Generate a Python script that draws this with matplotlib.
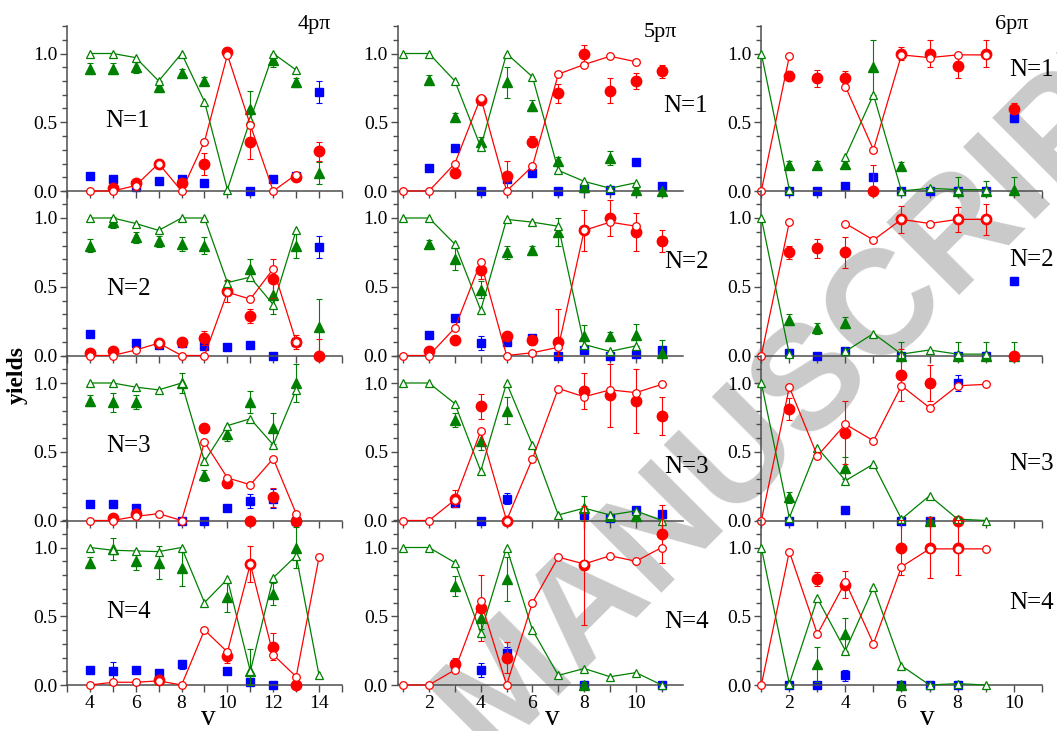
import numpy as np
import matplotlib
from matplotlib import pyplot as plt
from matplotlib.ticker import MultipleLocator

matplotlib.use("Agg")

plt.rcParams["font.family"] = ["Liberation Serif", "DejaVu Serif"]

n = None

# vibrational levels per column
V_4P = [4, 5, 6, 7, 8, 9, 10, 11, 12, 13, 14]
V_5P = [1, 2, 3, 4, 5, 6, 7, 8, 9, 10, 11]
V_6P = [1, 2, 3, 4, 5, 6, 7, 8, 9, 10]

# gt/rt: theory (open), ge/re/be: experiment (filled), gs/rs/bs: error bars
# ---- 4p pi ----
p4n1_gt = [1.0, 1.0, 0.97, 0.80, 1.0, 0.65, 0.01, 0.52, 1.0, 0.88, n]
p4n1_rt = [0.0, 0.0, 0.04, 0.20, 0.0, 0.36, 0.99, 0.48, 0.0, 0.12, n]
p4n1_ge = [0.89, 0.89, 0.90, 0.76, 0.86, 0.80, n, 0.60, 0.95, 0.79, 0.13]
p4n1_gs = [0.04, 0.04, 0.04, 0.04, 0.03, 0.03, 0, 0.13, 0.05, 0.03, 0.08]
p4n1_re = [n, 0.02, 0.06, 0.20, 0.06, 0.20, 1.01, 0.36, n, 0.10, 0.29]
p4n1_rs = [0, 0.02, 0.02, 0.02, 0.02, 0.08, 0.03, 0.13, 0, 0.02, 0.07]
p4n1_be = [0.11, 0.09, 0.03, 0.07, 0.09, 0.06, n, 0.0, 0.09, 0.11, 0.72]
p4n1_bs = [0.02, 0.02, 0.01, 0.02, 0.02, 0.02, 0, 0, 0.02, 0.02, 0.08]

p4n2_gt = [1.0, 1.0, 0.96, 0.91, 1.0, 1.0, 0.53, 0.57, 0.37, 0.91, n]
p4n2_rt = [0.0, 0.0, 0.04, 0.09, 0.0, 0.0, 0.46, 0.41, 0.63, 0.10, n]
p4n2_ge = [0.80, 0.97, 0.86, 0.83, 0.81, 0.80, 0.49, 0.63, 0.44, 0.80, 0.21]
p4n2_gs = [0.05, 0.04, 0.04, 0.04, 0.05, 0.06, 0.05, 0.07, 0.14, 0.09, 0.20]
p4n2_re = [0.02, 0.03, n, 0.09, 0.10, 0.13, 0.47, 0.29, 0.56, 0.10, 0.0]
p4n2_rs = [0.01, 0.01, 0, 0.01, 0.02, 0.05, 0.08, 0.05, 0.14, 0.05, 0.12]
p4n2_be = [0.16, n, 0.09, 0.08, 0.09, 0.07, 0.06, 0.08, 0.0, 0.10, 0.79]
p4n2_bs = [0.02, 0, 0.02, 0.02, 0.02, 0.02, 0.02, 0.02, 0, 0.02, 0.08]

p4n3_gt = [1.0, 1.0, 0.97, 0.95, 1.0, 0.43, 0.69, 0.74, 0.55, 0.95, n]
p4n3_rt = [0.0, 0.0, 0.03, 0.05, 0.0, 0.57, 0.31, 0.26, 0.45, 0.05, n]
p4n3_ge = [0.87, 0.86, 0.86, n, 1.0, 0.33, 0.63, 0.86, 0.67, 1.0, n]
p4n3_gs = [0.04, 0.07, 0.05, 0, 0.07, 0.04, 0.05, 0.08, 0.11, 0.14, 0]
p4n3_re = [n, 0.02, 0.05, n, n, 0.67, 0.27, 0.0, 0.17, 0.0, n]
p4n3_rs = [0, 0.01, 0.02, 0, 0, 0.03, 0.03, 0, 0.07, 0, 0]
p4n3_be = [0.12, 0.12, 0.09, n, 0.0, 0.0, 0.09, 0.14, 0.16, 0.0, n]
p4n3_bs = [0.02, 0.02, 0.02, 0, 0, 0, 0.02, 0.05, 0.07, 0, 0]

p4n4_gt = [1.0, 0.98, 0.975, 0.97, 1.0, 0.60, 0.77, 0.10, 0.78, 0.94, 0.07]
p4n4_rt = [0.0, 0.02, 0.02, 0.03, 0.0, 0.40, 0.24, 0.88, 0.22, 0.06, 0.93]
p4n4_ge = [0.89, 0.99, 0.90, 0.89, 0.85, n, 0.64, 0.10, 0.66, 1.0, n]
p4n4_gs = [0.04, 0.08, 0.06, 0.12, 0.13, 0, 0.11, 0.16, 0.08, 0.15, 0]
p4n4_re = [n, n, n, 0.04, n, n, 0.21, 0.88, 0.28, 0.0, n]
p4n4_rs = [0, 0, 0, 0.02, 0, 0, 0.05, 0.13, 0.10, 0, 0]
p4n4_be = [0.11, 0.10, 0.11, 0.09, 0.15, n, 0.10, 0.02, 0.0, n, n]
p4n4_bs = [0.02, 0.07, 0.02, 0.02, 0.03, 0, 0.02, 0.02, 0, 0, 0]

# ---- 5p pi ----
p5n1_gt = [1.0, 1.0, 0.80, 0.32, 1.0, 0.83, 0.15, 0.07, 0.02, 0.06, n]
p5n1_rt = [0.0, 0.0, 0.20, 0.68, 0.0, 0.18, 0.85, 0.92, 0.98, 0.94, n]
p5n1_ge = [n, 0.81, 0.54, 0.36, 0.79, 0.62, 0.22, 0.03, 0.24, 0.01, 0.0]
p5n1_gs = [0, 0.03, 0.03, 0.03, 0.11, 0.04, 0.03, 0.02, 0.05, 0.01, 0.01]
p5n1_re = [n, n, 0.13, 0.66, 0.11, 0.36, 0.71, 1.0, 0.73, 0.80, 0.87]
p5n1_rs = [0, 0, 0.02, 0.03, 0.11, 0.04, 0.07, 0.06, 0.09, 0.06, 0.05]
p5n1_be = [n, 0.17, 0.31, 0.0, 0.09, 0.13, 0.0, 0.02, 0.01, 0.21, 0.04]
p5n1_bs = [0, 0.02, 0.02, 0, 0.02, 0.02, 0, 0.01, 0.01, 0.02, 0.02]

p5n2_gt = [1.0, 1.0, 0.81, 0.33, 0.99, 0.97, 0.94, 0.08, 0.03, 0.07, n]
p5n2_rt = [0.0, 0.0, 0.20, 0.68, 0.0, 0.02, 0.06, 0.91, 0.97, 0.94, n]
p5n2_ge = [n, 0.81, 0.70, 0.48, 0.75, 0.77, 0.90, 0.14, 0.14, 0.15, 0.02]
p5n2_gs = [0, 0.03, 0.08, 0.06, 0.05, 0.03, 0.10, 0.08, 0.03, 0.08, 0.09]
p5n2_re = [n, 0.03, 0.11, 0.62, 0.14, 0.11, 0.10, 0.91, 1.0, 0.90, 0.83]
p5n2_rs = [0, 0.02, 0.02, 0.06, 0.03, 0.03, 0.24, 0.15, 0.13, 0.14, 0.08]
p5n2_be = [n, 0.15, 0.27, 0.09, 0.10, 0.13, 0.0, 0.04, 0.0, 0.01, 0.04]
p5n2_bs = [0, 0.02, 0.02, 0.05, 0.02, 0.02, 0, 0.02, 0, 0.01, 0.02]

p5n3_gt = [1.0, 1.0, 0.85, 0.36, 1.0, 0.55, 0.04, 0.09, 0.04, 0.07, 0.0]
p5n3_rt = [0.0, 0.0, 0.15, 0.65, 0.0, 0.45, 0.96, 0.90, 0.95, 0.93, 0.99]
p5n3_ge = [n, n, 0.73, 0.58, 0.80, n, n, 0.09, 0.03, 0.03, n]
p5n3_gs = [0, 0, 0.05, 0.07, 0.10, 0, 0, 0.09, 0.02, 0.02, 0]
p5n3_re = [n, n, 0.16, 0.83, 0.0, n, n, 0.94, 0.91, 0.87, 0.76]
p5n3_rs = [0, 0, 0.06, 0.09, 0, 0, 0, 0.13, 0.23, 0.23, 0.14]
p5n3_be = [n, n, 0.13, 0.0, 0.16, n, n, 0.04, 0.02, 0.08, 0.05]
p5n3_bs = [0, 0, 0.02, 0, 0.04, 0, 0, 0.02, 0.01, 0.02, 0.02]

p5n4_gt = [1.0, 1.0, 0.89, 0.38, 1.0, 0.40, 0.07, 0.12, 0.06, 0.09, 0.0]
p5n4_rt = [0.0, 0.0, 0.11, 0.61, 0.0, 0.60, 0.93, 0.88, 0.94, 0.90, 1.0]
p5n4_ge = [n, n, 0.72, 0.49, 0.77, n, n, 0.0, n, n, n]
p5n4_gs = [0, 0, 0.07, 0.08, 0.16, 0, 0, 0.02, 0, 0, 0]
p5n4_re = [n, n, 0.15, 0.56, 0.20, n, n, 0.87, n, n, 1.10]
p5n4_rs = [0, 0, 0.05, 0.24, 0.11, 0, 0, 0.43, 0, 0, 0.21]
p5n4_be = [n, n, 0.15, 0.11, 0.23, n, n, 0.0, n, n, 0.0]
p5n4_bs = [0, 0, 0.02, 0.05, 0.05, 0, 0, 0, 0, 0, 0]

# ---- 6p pi ----
p6n1_gt = [1.0, 0.01, n, 0.25, 0.70, 0.0, 0.02, 0.01, 0.01, n]
p6n1_rt = [0.0, 0.98, n, 0.76, 0.30, 0.99, 0.97, 0.99, 0.99, n]
p6n1_ge = [n, 0.19, 0.19, 0.20, 0.90, 0.18, n, 0.0, 0.0, 0.01]
p6n1_gs = [0, 0.03, 0.03, 0.03, 0.20, 0.03, 0, 0.10, 0.07, 0.09]
p6n1_re = [n, 0.84, 0.82, 0.82, 0.0, 1.0, 1.0, 0.91, 1.0, 0.60]
p6n1_rs = [0, 0.03, 0.06, 0.05, 0.19, 0.05, 0.10, 0.09, 0.10, 0.04]
p6n1_be = [n, 0.0, 0.0, 0.04, 0.10, 0.0, 0.0, 0.0, 0.0, 0.53]
p6n1_bs = [0, 0, 0, 0.01, 0.02, 0, 0, 0, 0, 0.03]

p6n2_gt = [1.0, 0.01, n, 0.03, 0.16, 0.01, 0.04, 0.01, 0.01, n]
p6n2_rt = [0.0, 0.97, n, 0.96, 0.84, 0.99, 0.96, 0.99, 0.99, n]
p6n2_ge = [n, 0.26, 0.20, 0.24, n, 0.0, n, 0.0, 0.0, 0.0]
p6n2_gs = [0, 0.04, 0.04, 0.04, 0, 0.10, 0, 0.10, 0.10, 0.10]
p6n2_re = [n, 0.75, 0.78, 0.75, n, 0.99, n, 0.99, 0.99, 0.0]
p6n2_rs = [0, 0.05, 0.07, 0.11, 0, 0.10, 0, 0.09, 0.11, 0]
p6n2_be = [n, 0.02, 0.0, 0.03, n, 0.0, n, 0.0, 0.0, 0.54]
p6n2_bs = [0, 0, 0, 0.02, 0, 0, 0, 0, 0, 0.03]

p6n3_gt = [1.0, 0.02, 0.53, 0.29, 0.41, 0.01, 0.18, 0.01, 0.0, n]
p6n3_rt = [0.0, 0.97, 0.47, 0.70, 0.58, 0.98, 0.82, 0.98, 0.99, n]
p6n3_ge = [n, 0.17, n, 0.38, n, n, 0.0, n, n, n]
p6n3_gs = [0, 0.04, 0, 0.08, 0, 0, 0, 0, 0, 0]
p6n3_re = [n, 0.81, n, 0.64, n, 1.06, 1.0, 0.0, n, n]
p6n3_rs = [0, 0.08, 0, 0.23, 0, 0.19, 0.13, 0, 0, 0]
p6n3_be = [n, 0.0, n, 0.08, n, 0.0, 0.0, 1.0, n, n]
p6n3_bs = [0, 0, 0, 0.01, 0, 0, 0, 0.06, 0, 0]

p6n4_gt = [1.0, 0.01, 0.63, 0.25, 0.71, 0.14, 0.0, 0.01, 0.0, n]
p6n4_rt = [0.0, 0.97, 0.37, 0.75, 0.30, 0.86, 0.99, 0.99, 0.99, n]
p6n4_ge = [n, n, 0.15, 0.37, n, 0.0, n, n, n, n]
p6n4_gs = [0, 0, 0.13, 0.12, 0, 0, 0, 0, 0, 0]
p6n4_re = [n, n, 0.77, 0.73, n, 1.0, 1.0, 1.0, n, n]
p6n4_rs = [0, 0, 0.05, 0.10, 0, 0.20, 0.22, 0.20, 0, 0]
p6n4_be = [n, 0.0, 0.0, 0.07, n, 0.0, 0.0, 0.0, n, n]
p6n4_bs = [0, 0, 0, 0.04, 0, 0, 0, 0, 0, 0]

GREEN = "#008000"
RED = "#ff0000"
BLUE = "#0000ff"
AXGREY = "#4d4d4d"


def arr(values):
    return np.array([np.nan if v is None else v for v in values], dtype=float)


def draw_exp(ax, x, y, err, marker, color, ms, z):
    y = arr(y)
    err = np.array(err, dtype=float)
    lo = np.minimum(err, np.nan_to_num(y))  # yields never below zero
    c = ax.errorbar(x, y, yerr=[lo, err], fmt=marker, color=color, ms=ms, mec=color,
                    capsize=2.0, capthick=0.8, elinewidth=0.8, zorder=z)
    for a in c.get_children():
        a.set_clip_on(False)


def draw_theory(ax, x, y, marker, color, ms):
    ax.plot(x, arr(y), color=color, lw=0.9, marker=marker, ms=ms, mfc="white",
            mec=color, mew=0.9, zorder=6, clip_on=False)


W, H = 1057, 731
fig = plt.figure(figsize=(W / 100, H / 100), dpi=100)

# watermark
fig.text(1192 / W, 1 - 62 / H, "ACCEPTED MANUSCRIPT", rotation=45, rotation_mode="anchor",
         ha="right", va="baseline", fontsize=107, fontweight="bold", family="Liberation Sans",
         color="#cacaca", zorder=-1)

columns = [
    (V_4P, (3, 15), 67, 275,
     [(p4n1_gt, p4n1_rt, p4n1_ge, p4n1_gs, p4n1_re, p4n1_rs, p4n1_be, p4n1_bs),
      (p4n2_gt, p4n2_rt, p4n2_ge, p4n2_gs, p4n2_re, p4n2_rs, p4n2_be, p4n2_bs),
      (p4n3_gt, p4n3_rt, p4n3_ge, p4n3_gs, p4n3_re, p4n3_rs, p4n3_be, p4n3_bs),
      (p4n4_gt, p4n4_rt, p4n4_ge, p4n4_gs, p4n4_re, p4n4_rs, p4n4_be, p4n4_bs)],
     "4pπ", (314, 24), [(128, 121), (129, 289), (129, 446), (129, 612)], "center", 208),
    (V_5P, (0.79, 11.82), 397.7, 285.3,
     [(p5n1_gt, p5n1_rt, p5n1_ge, p5n1_gs, p5n1_re, p5n1_rs, p5n1_be, p5n1_bs),
      (p5n2_gt, p5n2_rt, p5n2_ge, p5n2_gs, p5n2_re, p5n2_rs, p5n2_be, p5n2_bs),
      (p5n3_gt, p5n3_rt, p5n3_ge, p5n3_gs, p5n3_re, p5n3_rs, p5n3_be, p5n3_bs),
      (p5n4_gt, p5n4_rt, p5n4_ge, p5n4_gs, p5n4_re, p5n4_rs, p5n4_be, p5n4_bs)],
     "5pπ", (660, 33), [(686, 106), (687, 262), (687, 467), (687, 622)], "center", 552),
    (V_6P, (1, 11), 761.3, 280.4,
     [(p6n1_gt, p6n1_rt, p6n1_ge, p6n1_gs, p6n1_re, p6n1_rs, p6n1_be, p6n1_bs),
      (p6n2_gt, p6n2_rt, p6n2_ge, p6n2_gs, p6n2_re, p6n2_rs, p6n2_be, p6n2_bs),
      (p6n3_gt, p6n3_rt, p6n3_ge, p6n3_gs, p6n3_re, p6n3_rs, p6n3_be, p6n3_bs),
      (p6n4_gt, p6n4_rt, p6n4_ge, p6n4_gs, p6n4_re, p6n4_rs, p6n4_be, p6n4_bs)],
     "6pπ", (1012, 25), [(1054, 70), (1054, 260), (1054, 464), (1054, 603)], "right", 927),
]

row_bottoms = [191, 355.5, 520.5, 685]
row_h = 165

for x, xlim, left, width, panels, title, title_xy, nlab_xy, nlab_ha, vlab_x in columns:
    for j, (gt, rt, ge, gs, re_, rs, be, bs) in enumerate(panels):
        ax = fig.add_axes([left / W, 1 - row_bottoms[j] / H, width / W, row_h / H])
        ax.patch.set_visible(False)
        ax.set_xlim(*xlim)
        ax.set_ylim(0, 1.2)

        draw_exp(ax, x, be, bs, "s", BLUE, 5.5, 2)
        draw_exp(ax, x, ge, gs, "^", GREEN, 7, 3)
        draw_exp(ax, x, re_, rs, "o", RED, 7.5, 4)
        draw_theory(ax, x, gt, "^", GREEN, 6)
        draw_theory(ax, x, rt, "o", RED, 5.5)

        for s in ("top", "right"):
            ax.spines[s].set_visible(False)
        for s in ("left", "bottom"):
            ax.spines[s].set_color(AXGREY)
            ax.spines[s].set_linewidth(1.1)

        ax.yaxis.set_minor_locator(MultipleLocator(0.1))
        ax.xaxis.set_major_locator(MultipleLocator(2))
        ax.xaxis.set_minor_locator(MultipleLocator(1))
        ax.set_yticks([0.0, 0.5, 1.0], ["0.0", "0.5", "1.0"])
        ax.tick_params(which="both", direction="out", color=AXGREY, width=1.0, labelsize=14, pad=2)
        ax.tick_params(which="major", length=5)
        ax.tick_params(which="minor", length=3.5)
        ax.tick_params(axis="x", which="minor", length=5)
        if j < 3:
            ax.tick_params(axis="x", labelbottom=False)

        fig.text(nlab_xy[j][0] / W, 1 - nlab_xy[j][1] / H, f"N={j + 1}",
                 ha=nlab_ha, va="center", fontsize=18)

    fig.text(title_xy[0] / W, 1 - title_xy[1] / H, title, ha="center", va="center", fontsize=16)
    fig.text(vlab_x / W, 0.0, "v", ha="center", va="bottom", fontsize=21)

fig.text(17 / W, 1 - 375 / H, "yields", rotation=90, ha="center", va="center",
         fontsize=17, fontweight="bold")

fig.savefig("out.png", dpi=100)
